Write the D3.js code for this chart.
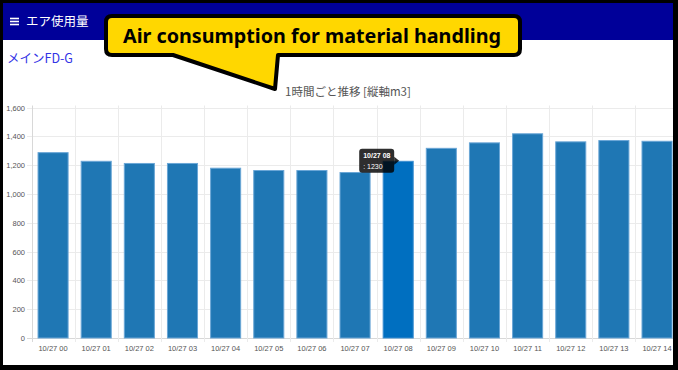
<!DOCTYPE html>
<html>
<head>
<meta charset="utf-8">
<script src="https://cdn.jsdelivr.net/npm/d3@7"></script>
<style>
  html, body { margin: 0; padding: 0; background: #fff; overflow: hidden; }
  svg { display: block; }
</style>
</head>
<body>
<svg id="chart" width="678" height="370"></svg>
<script>
// hourly air usage, 10/27
const categories = ['10/27 00', '10/27 01', '10/27 02', '10/27 03', '10/27 04', '10/27 05', '10/27 06',
  '10/27 07', '10/27 08', '10/27 09', '10/27 10', '10/27 11', '10/27 12', '10/27 13', '10/27 14'];
const values = [1290, 1230, 1215, 1215, 1182, 1166, 1166, 1152, 1230, 1320, 1358, 1421, 1365, 1374, 1369];
const yTicks = [0, 200, 400, 600, 800, 1000, 1200, 1400, 1600];
const activeIndex = 8;

const W = 678, H = 370;
const svg = d3.select('#chart');
const jp = '"Noto Sans CJK JP", "Noto Sans", sans-serif';
const sans = '"Liberation Sans", Arial, sans-serif';

const x = d3.scaleBand().domain(categories).range([31.5, 678.6]).paddingInner(0.28).paddingOuter(0.14);
const y = d3.scaleLinear().domain([0, 1600]).range([338, 107.5]);

// header bar
svg.append('rect').attr('x', 0).attr('y', 0).attr('width', W).attr('height', 40).attr('fill', '#000099');
[18.5, 21.5, 24.5].forEach(yy => {
  svg.append('rect').attr('x', 10).attr('y', yy - 0.8).attr('width', 9).attr('height', 1.6).attr('fill', '#fff');
});
svg.append('text').attr('x', 26).attr('y', 25.5).attr('fill', '#fff')
  .style('font-family', jp).style('font-size', '12.5px').text('エア使用量');

svg.append('text').attr('x', 7).attr('y', 63).attr('fill', '#3333e6')
  .style('font-family', jp).style('font-size', '12.5px').text('メインFD-G');

svg.append('text').attr('x', 348).attr('y', 95.5).attr('text-anchor', 'middle').attr('fill', '#555')
  .style('font-family', jp).style('font-size', '11.5px').text('1時間ごと推移 [縦軸m3]');

// grid
const grid = svg.append('g');
grid.selectAll('.hg').data(yTicks).join('line')
  .attr('x1', 27).attr('x2', W).attr('y1', d => Math.round(y(d)) + 0.5).attr('y2', d => Math.round(y(d)) + 0.5)
  .attr('stroke', d => d === 0 ? '#d8d8d8' : '#ebebeb');
const bounds = categories.map(c => x(c) - x.step() * x.paddingOuter());
grid.selectAll('.vg').data(bounds).join('line')
  .attr('x1', d => Math.round(d) + 0.5).attr('x2', d => Math.round(d) + 0.5)
  .attr('y1', y(1600) - 2).attr('y2', y(0) + 4)
  .attr('stroke', (d, i) => i === 0 ? '#d8d8d8' : '#ebebeb');

grid.selectAll('.yl').data(yTicks).join('text')
  .attr('x', 25).attr('y', d => y(d) + 3).attr('text-anchor', 'end').attr('fill', '#555')
  .style('font-family', sans).style('font-size', '7.5px').text(d3.format(','));

grid.selectAll('.xl').data(categories).join('text')
  .attr('x', d => x(d) + x.bandwidth() / 2).attr('y', 351).attr('text-anchor', 'middle').attr('fill', '#555')
  .style('font-family', sans).style('font-size', '7.5px').text(d => d);

// bars
svg.append('g').selectAll('rect').data(values).join('rect')
  .attr('x', (d, i) => x(categories[i]) + 0.5)
  .attr('y', d => y(d) + 0.5)
  .attr('width', x.bandwidth() - 1)
  .attr('height', d => y(0) - y(d) - 0.5)
  .attr('fill', (d, i) => i === activeIndex ? '#006fc0' : '#1f77b4')
  .attr('stroke', (d, i) => i === activeIndex ? '#3d8fd0' : '#6aa6d6')
  .attr('stroke-width', 1);

// tooltip at hovered bar
const tipX = x(categories[activeIndex]) + x.bandwidth() / 2;
const tipY = y(values[activeIndex]);
const tip = svg.append('g').attr('transform', `translate(${tipX},${tipY})`);
tip.append('rect').attr('x', -39).attr('y', -12).attr('width', 35).attr('height', 24).attr('rx', 3)
  .attr('fill', 'rgba(0,0,0,0.82)');
tip.append('path').attr('d', 'M-4,-4 L1,0 L-4,4 Z').attr('fill', 'rgba(0,0,0,0.82)');
tip.append('text').attr('x', -35).attr('y', -3).attr('fill', '#fff')
  .style('font-family', sans).style('font-size', '7px').style('font-weight', 'bold')
  .text(categories[activeIndex]);
tip.append('text').attr('x', -35).attr('y', 8).attr('fill', '#fff')
  .style('font-family', sans).style('font-size', '7px')
  .text(': ' + values[activeIndex]);

// callout
const call = svg.append('g');
call.append('path')
  .attr('d', 'M112,16 L514,16 Q520,16 520,22 L520,49 Q520,55 514,55 L278,55 L275,89 L173,55 L112,55 Q106,55 106,49 L106,22 Q106,16 112,16 Z')
  .attr('fill', '#ffd700').attr('stroke', '#000').attr('stroke-width', 4).attr('stroke-linejoin', 'round');
call.append('text').attr('x', 312).attr('y', 43).attr('text-anchor', 'middle').attr('fill', '#000')
  .attr('textLength', 378).attr('lengthAdjust', 'spacingAndGlyphs')
  .style('font-family', '"Noto Sans", sans-serif').style('font-weight', 'bold').style('font-size', '19px')
  .text('Air consumption for material handling');

// frame
svg.append('rect').attr('x', 1.5).attr('y', 1.5).attr('width', W - 5).attr('height', H - 5)
  .attr('fill', 'none').attr('stroke', '#000').attr('stroke-width', 3);
svg.append('rect').attr('x', W - 3).attr('y', 0).attr('width', 3).attr('height', H).attr('fill', '#000');
svg.append('rect').attr('x', 0).attr('y', H - 4).attr('width', W).attr('height', 4).attr('fill', '#000');
</script>
</body>
</html>
